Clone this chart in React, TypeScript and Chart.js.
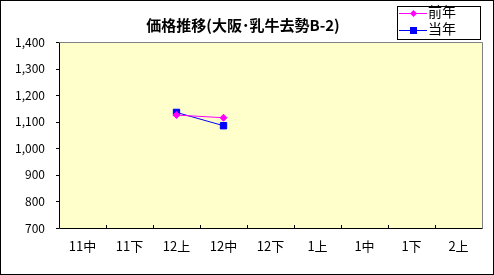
import React, { useEffect, useRef } from "react";
import { Chart, registerables } from "chart.js";

Chart.register(...registerables);

const TITLE = "価格推移(大阪･乳牛去勢B-2)";
const CATEGORIES = ["11中", "11下", "12上", "12中", "12下", "1上", "1中", "1下", "2上"];
const PREV_YEAR_LABEL = "前年";
const CURR_YEAR_LABEL = "当年";
const PREV_YEAR = [null, null, 1125, 1115, null, null, null, null, null];
const CURR_YEAR = [null, null, 1135, 1085, null, null, null, null, null];
const Y_MIN = 700;
const Y_MAX = 1400;
const Y_STEP = 100;

const FONT = "'Noto Sans CJK JP', 'Noto Sans', sans-serif";

// Frame, plot background, axis tick marks, title and legend box
const decorPlugin = {
  id: "decor",
  beforeDraw(chart: any) {
    const { ctx, chartArea: a, width, height } = chart;
    ctx.save();
    ctx.fillStyle = "#ffffff";
    ctx.fillRect(0, 0, width, height);
    ctx.fillStyle = "#ffffcc";
    ctx.fillRect(a.left, a.top, a.right - a.left, a.bottom - a.top);
    ctx.restore();
  },
  afterDraw(chart: any) {
    const { ctx, chartArea: a, width, height, scales } = chart;
    ctx.save();
    // plot border: top/right grey, axis lines black
    ctx.lineWidth = 1;
    ctx.strokeStyle = "#808080";
    ctx.beginPath();
    ctx.moveTo(a.left + 0.5, a.top + 0.5);
    ctx.lineTo(a.right + 0.5, a.top + 0.5);
    ctx.lineTo(a.right + 0.5, a.bottom + 0.5);
    ctx.stroke();
    ctx.strokeStyle = "#000000";
    ctx.beginPath();
    ctx.moveTo(a.left + 0.5, a.top + 0.5);
    ctx.lineTo(a.left + 0.5, a.bottom + 0.5);
    ctx.lineTo(a.right + 0.5, a.bottom + 0.5);
    ctx.stroke();
    // y tick marks (outside)
    const ys = scales.y;
    ctx.beginPath();
    for (let v = Y_MIN; v <= Y_MAX; v += Y_STEP) {
      const y = Math.round(ys.getPixelForValue(v)) + 0.5;
      ctx.moveTo(a.left - 3, y);
      ctx.lineTo(a.left, y);
    }
    // x tick marks at category boundaries (inside)
    const xs = scales.x;
    const step = (a.right - a.left) / CATEGORIES.length;
    for (let i = 1; i < CATEGORIES.length; i++) {
      const x = Math.round(xs.getPixelForValue(i) - step / 2) + 0.5;
      ctx.moveTo(x, a.bottom);
      ctx.lineTo(x, a.bottom - 3);
    }
    ctx.stroke();

    // title
    ctx.fillStyle = "#000000";
    ctx.font = `bold 15px ${FONT}`;
    ctx.textAlign = "center";
    ctx.textBaseline = "middle";
    ctx.fillText(TITLE, 243, 25);

    // legend
    const lx = 397, ly = 6, lw = 83, lh = 33;
    ctx.fillStyle = "#ffffff";
    ctx.fillRect(lx, ly, lw, lh);
    ctx.strokeStyle = "#000000";
    ctx.strokeRect(lx + 0.5, ly + 0.5, lw, lh);
    ctx.font = `14px ${FONT}`;
    ctx.textAlign = "left";
    chart.data.datasets.forEach((ds: any, i: number) => {
      const cy = ly + 7 + i * 17;
      ctx.strokeStyle = ds.borderColor;
      ctx.lineWidth = 1;
      ctx.beginPath();
      ctx.moveTo(lx + 2, cy + 0.5);
      ctx.lineTo(lx + 30, cy + 0.5);
      ctx.stroke();
      ctx.fillStyle = ds.pointBackgroundColor;
      if (ds.pointStyle === "rect") {
        ctx.fillRect(lx + 13, cy - 3, 7, 7);
      } else {
        ctx.beginPath();
        ctx.moveTo(lx + 16.5, cy - 3);
        ctx.lineTo(lx + 20, cy + 0.5);
        ctx.lineTo(lx + 16.5, cy + 4);
        ctx.lineTo(lx + 13, cy + 0.5);
        ctx.closePath();
        ctx.fill();
      }
      ctx.fillStyle = "#000000";
      ctx.fillText(ds.label, lx + 31, cy - 1);
    });

    // outer frame
    ctx.strokeStyle = "#000000";
    ctx.strokeRect(0.5, 0.5, width - 1, height - 1);
    ctx.restore();
  },
};

export default function App() {
  const ref = useRef<HTMLCanvasElement>(null);

  useEffect(() => {
    document.body.style.margin = "0";
    const chart = new Chart(ref.current!, {
      type: "line",
      data: {
        labels: CATEGORIES,
        datasets: [
          {
            label: PREV_YEAR_LABEL,
            data: PREV_YEAR,
            borderColor: "#ff00ff",
            backgroundColor: "#ff00ff",
            pointBackgroundColor: "#ff00ff",
            pointBorderColor: "#ff00ff",
            pointStyle: "rectRot",
            pointRadius: 3.5,
            borderWidth: 1,
            spanGaps: false,
          },
          {
            label: CURR_YEAR_LABEL,
            data: CURR_YEAR,
            borderColor: "#0000ff",
            backgroundColor: "#0000ff",
            pointBackgroundColor: "#0000ff",
            pointBorderColor: "#0000ff",
            pointStyle: "rect",
            pointRadius: 4.5,
            borderWidth: 1,
            spanGaps: false,
          },
        ],
      },
      options: {
        animation: false,
        responsive: false,
        devicePixelRatio: 1,
        layout: { padding: { top: 42, right: 12, left: 0, bottom: 0 } },
        plugins: {
          legend: { display: false },
          tooltip: { enabled: false },
          title: { display: false },
        },
        scales: {
          x: {
            type: "category",
            offset: true,
            grid: { display: false, drawTicks: false },
            border: { display: false },
            ticks: {
              color: "#000000",
              font: { family: FONT, size: 13 },
              padding: 10,
              maxRotation: 0,
              autoSkip: false,
            },
            afterFit(s: any) {
              s.height = 47;
            },
          },
          y: {
            min: Y_MIN,
            max: Y_MAX,
            grid: { display: false, drawTicks: false },
            border: { display: false },
            ticks: {
              stepSize: Y_STEP,
              color: "#000000",
              font: { family: FONT, size: 12 },
              padding: 14,
              callback: (v: any) => Number(v).toLocaleString("en-US"),
            },
            afterFit(s: any) {
              s.width = 59;
            },
          },
        },
      },
      plugins: [decorPlugin],
    });
    return () => chart.destroy();
  }, []);

  return <canvas ref={ref} width={494} height={275} style={{ display: "block" }} />;
}
